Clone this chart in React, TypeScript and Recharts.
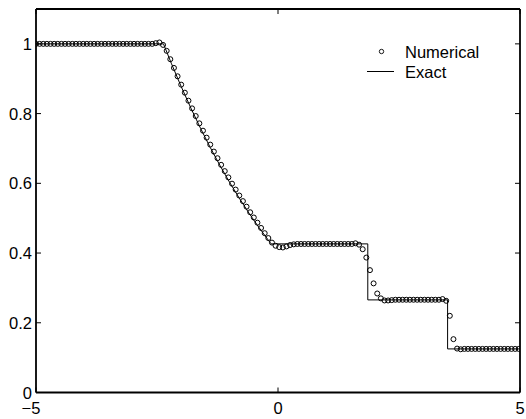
import React from 'react';
import { ComposedChart, XAxis, YAxis, Line, Scatter } from 'recharts';

const numericalX = [
  -5, -4.925, -4.85, -4.775, -4.7, -4.625, -4.55, -4.475, -4.4, -4.325,
  -4.25, -4.175, -4.1, -4.025, -3.95, -3.875, -3.8, -3.725, -3.65, -3.575,
  -3.5, -3.425, -3.35, -3.275, -3.2, -3.125, -3.05, -2.975, -2.9, -2.825,
  -2.75, -2.675, -2.6, -2.525, -2.45, -2.375, -2.3, -2.225, -2.15, -2.075,
  -2, -1.925, -1.85, -1.775, -1.7, -1.625, -1.55, -1.475, -1.4, -1.325,
  -1.25, -1.175, -1.1, -1.025, -0.95, -0.875, -0.8, -0.725, -0.65, -0.575,
  -0.5, -0.425, -0.35, -0.275, -0.2, -0.125, -0.05, 0.025, 0.1, 0.175,
  0.25, 0.325, 0.4, 0.475, 0.55, 0.625, 0.7, 0.775, 0.85, 0.925,
  1, 1.075, 1.15, 1.225, 1.3, 1.375, 1.45, 1.525, 1.6, 1.675,
  1.75, 1.825, 1.9, 1.975, 2.05, 2.125, 2.2, 2.275, 2.35, 2.425,
  2.5, 2.575, 2.65, 2.725, 2.8, 2.875, 2.95, 3.025, 3.1, 3.175,
  3.25, 3.325, 3.4, 3.475, 3.55, 3.625, 3.7, 3.775, 3.85, 3.925,
  4, 4.075, 4.15, 4.225, 4.3, 4.375, 4.45, 4.525, 4.6, 4.675,
  4.75, 4.825, 4.9, 4.975,
];

const numericalY = [
  1, 1, 1, 1, 1, 1, 1, 1, 1, 1,
  1, 1, 1, 1, 1, 1, 1, 1, 1, 1,
  1, 1, 1, 1, 1, 1, 1, 1, 1, 1,
  1, 1, 1, 1.002, 1.004, 0.997, 0.98, 0.956, 0.931, 0.907,
  0.883, 0.86, 0.837, 0.815, 0.793, 0.772, 0.751, 0.731, 0.711, 0.691,
  0.672, 0.653, 0.635, 0.617, 0.599, 0.582, 0.565, 0.549, 0.533, 0.517,
  0.502, 0.487, 0.472, 0.457, 0.443, 0.43, 0.421, 0.417, 0.416, 0.419,
  0.423, 0.425, 0.426, 0.426, 0.426, 0.426, 0.426, 0.426, 0.426, 0.426,
  0.426, 0.426, 0.426, 0.426, 0.426, 0.426, 0.426, 0.426, 0.428, 0.424,
  0.411, 0.387, 0.351, 0.313, 0.284, 0.27, 0.264, 0.264, 0.265, 0.266,
  0.266, 0.266, 0.266, 0.266, 0.266, 0.266, 0.266, 0.266, 0.266, 0.266,
  0.266, 0.266, 0.268, 0.263, 0.22, 0.153, 0.126, 0.124, 0.125, 0.125,
  0.125, 0.125, 0.125, 0.125, 0.125, 0.125, 0.125, 0.125, 0.125, 0.125,
  0.125, 0.125, 0.125, 0.125,
];

const exactX = [-5, -2.366, -2.2, -2.0, -1.8, -1.6, -1.4, -1.2, -1.0, -0.8, -0.6, -0.4, -0.2, -0.14, 1.855, 1.855, 3.504, 3.504, 5];
const exactY = [1, 1, 0.9428, 0.8775, 0.8158, 0.7577, 0.7029, 0.6514, 0.6029, 0.5574, 0.5146, 0.4746, 0.437, 0.4263, 0.4263, 0.2656, 0.2656, 0.125, 0.125];

const xTicks = [-5, 0, 5];
const yTicks = [0, 0.2, 0.4, 0.6, 0.8, 1];
const legendLabels = ['Numerical', 'Exact'];

const numericalData = numericalX.map((x, i) => ({ x, y: numericalY[i] }));
const exactData = exactX.map((x, i) => ({ x, y: exactY[i] }));

const FONT = '"Liberation Sans", Arial, Helvetica, sans-serif';
const FS = 16.5;
const fmt = (v: number) => String(v).replace('-', '\u2212');

const BottomTick = (props: any) => {
  const { x, y, payload } = props;
  const v = payload.value;
  return (
    <g>
      <line x1={x} x2={x} y1={y} y2={y - 5} stroke="#000" strokeWidth={1} />
      <text x={x + (v < 0 ? -5 : 0)} y={y + 21} textAnchor="middle" fontFamily={FONT} fontSize={FS} fill="#000">
        {fmt(v)}
      </text>
    </g>
  );
};

const TopTick = (props: any) => {
  const { x, y } = props;
  return <line x1={x} x2={x} y1={y} y2={y + 5} stroke="#000" strokeWidth={1} />;
};

const LeftTick = (props: any) => {
  const { x, y, payload } = props;
  return (
    <g>
      <line x1={x} x2={x + 5} y1={y} y2={y} stroke="#000" strokeWidth={1} />
      <text x={x - 4} y={y + 6} textAnchor="end" fontFamily={FONT} fontSize={FS} fill="#000">
        {fmt(payload.value)}
      </text>
    </g>
  );
};

const RightTick = (props: any) => {
  const { x, y } = props;
  return <line x1={x} x2={x - 5} y1={y} y2={y} stroke="#000" strokeWidth={1} />;
};

const Circle = (props: any) => {
  const { cx, cy } = props;
  return <circle cx={cx} cy={cy} r={2.5} fill="none" stroke="#000" strokeWidth={1} />;
};

const axisLine = { stroke: '#000', strokeWidth: 1.8 };

export default function App() {
  return (
    <div style={{ position: 'absolute', left: 0, top: 0, width: 526, height: 419, background: '#fff' }}>
      <ComposedChart width={526} height={419} margin={{ top: 8, right: 5, bottom: 0, left: 0 }}>
        <XAxis
          xAxisId="bottom"
          dataKey="x"
          type="number"
          domain={[-5, 5]}
          ticks={xTicks}
          allowDataOverflow
          height={26.5}
          tickSize={0}
          tickMargin={0}
          tickLine={false}
          axisLine={axisLine}
          tick={<BottomTick />}
          interval={0}
        />
        <XAxis
          xAxisId="top"
          orientation="top"
          dataKey="x"
          type="number"
          domain={[-5, 5]}
          ticks={xTicks}
          allowDataOverflow
          height={1}
          tickSize={0}
          tickMargin={0}
          tickLine={false}
          axisLine={axisLine}
          tick={<TopTick />}
          interval={0}
        />
        <YAxis
          yAxisId="left"
          dataKey="y"
          type="number"
          domain={[0, 1.1]}
          ticks={yTicks}
          allowDataOverflow
          width={36}
          tickSize={0}
          tickMargin={0}
          tickLine={false}
          axisLine={axisLine}
          tick={<LeftTick />}
          interval={0}
        />
        <YAxis
          yAxisId="right"
          orientation="right"
          dataKey="y"
          type="number"
          domain={[0, 1.1]}
          ticks={yTicks}
          allowDataOverflow
          width={1}
          tickSize={0}
          tickMargin={0}
          tickLine={false}
          axisLine={axisLine}
          tick={<RightTick />}
          interval={0}
        />
        <Line
          xAxisId="bottom"
          yAxisId="left"
          data={exactData}
          dataKey="y"
          type="linear"
          stroke="#000"
          strokeWidth={1}
          dot={false}
          activeDot={false}
          isAnimationActive={false}
        />
        <Scatter
          xAxisId="bottom"
          yAxisId="left"
          data={numericalData}
          dataKey="y"
          shape={<Circle />}
          isAnimationActive={false}
        />
      </ComposedChart>
      <svg width={526} height={419} style={{ position: 'absolute', left: 0, top: 0, pointerEvents: 'none' }}>
        <circle cx={381.5} cy={51.5} r={2.2} fill="none" stroke="#000" strokeWidth={0.9} />
        <text x={405} y={57.5} fontFamily={FONT} fontSize={FS} fill="#000">{legendLabels[0]}</text>
        <line x1={367} x2={394} y1={71.5} y2={71.5} stroke="#000" strokeWidth={1} />
        <text x={405} y={77.5} fontFamily={FONT} fontSize={FS} fill="#000">{legendLabels[1]}</text>
      </svg>
    </div>
  );
}
